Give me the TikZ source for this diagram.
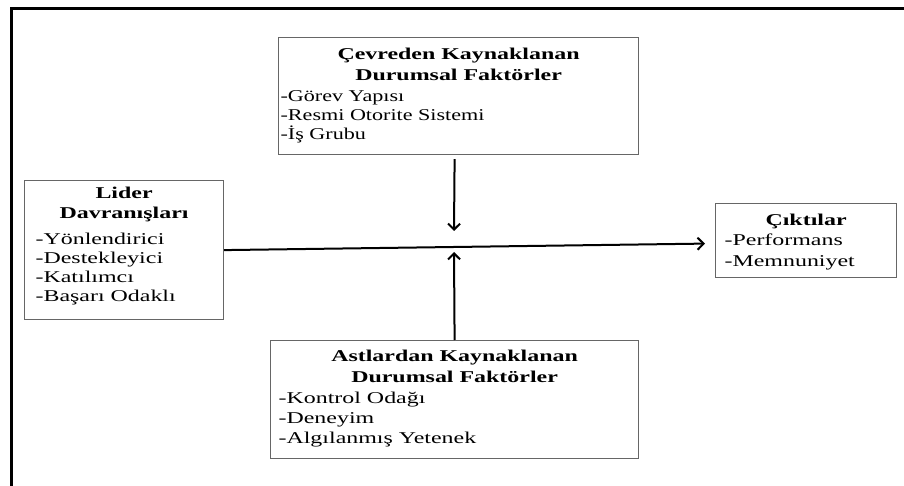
\documentclass[tikz,border=0pt]{standalone}
\usepackage{fontspec}
\setmainfont[FakeStretch=1.45]{Liberation Serif}
\newfontfamily\narrowfont[FakeStretch=1.34]{Liberation Serif}
\usetikzlibrary{arrows.meta,calc}
\tikzset{
  box/.style={draw=black!60, line width=1.2pt, inner sep=0pt, anchor=north west},
  arr/.style={line width=2pt, -{Straight Barb[length=6pt,width=12pt,line width=2pt]}},
  frame/.style={line width=3pt, line join=miter}
}
\newcommand{\st}{\rule{0pt}{15pt}}
\newcommand{\fs}[1]{\fontsize{16.5}{#1}\selectfont}
\begin{document}
\begin{tikzpicture}[x=1pt,y=-1pt]
\useasboundingbox (0,0) rectangle (904,486);
\draw[frame] (11,490) -- (11,9) -- (910,9);

\node[box] (cevre) at (278,37) {\parbox[c][117pt][t]{360pt}{\fs{21}
  \vspace*{6.5pt}{\fs{21}\centering\bfseries\st Çevreden Kaynaklanan\\Durumsal Faktörler\par}
  \vspace{2pt}\fs{19}\narrowfont\leftskip=2pt -Görev Yapısı\\-Resmi Otorite Sistemi\\-İş Grubu\par}};

\node[box] (lider) at (24,180) {\parbox[c][139pt][t]{199pt}{\fs{20}
  \vspace*{2.5pt}{\fs{20}\centering\bfseries\st Lider\\Davranışları\par}
  \vspace{7pt}\fs{19}\leftskip=11pt -Yönlendirici\\-Destekleyici\\-Katılımcı\\-Başarı Odaklı\par}};

\node[box] (cikti) at (715,203) {\parbox[c][74pt][t]{181pt}{\fs{20.5}
  \vspace*{6.5pt}{\fs{20.5}\centering\bfseries\st Çıktılar\par}
  \fs{20.5}\leftskip=9pt -Performans\\-Memnuniyet\par}};

\node[box] (ast) at (270,340) {\parbox[c][118pt][t]{368pt}{\fs{21.5}
  \vspace*{5.5pt}{\fs{21.5}\centering\bfseries\st Astlardan Kaynaklanan\\Durumsal Faktörler\par}
  \vspace{1pt}\fs{20}\leftskip=8pt -Kontrol Odağı\\-Deneyim\\-Algılanmış Yetenek\par}};

\coordinate (jd) at (454,231);
\coordinate (ju) at (454,252);

\draw[arr] (lider.east) -- ($(cikti.west)+(-10,3)$);
\draw[arr] ($(cevre.south -| ast.north)+(0,4)$) -- (jd);
\draw[arr] (ast.north) -- (ju);
\end{tikzpicture}
\end{document}
